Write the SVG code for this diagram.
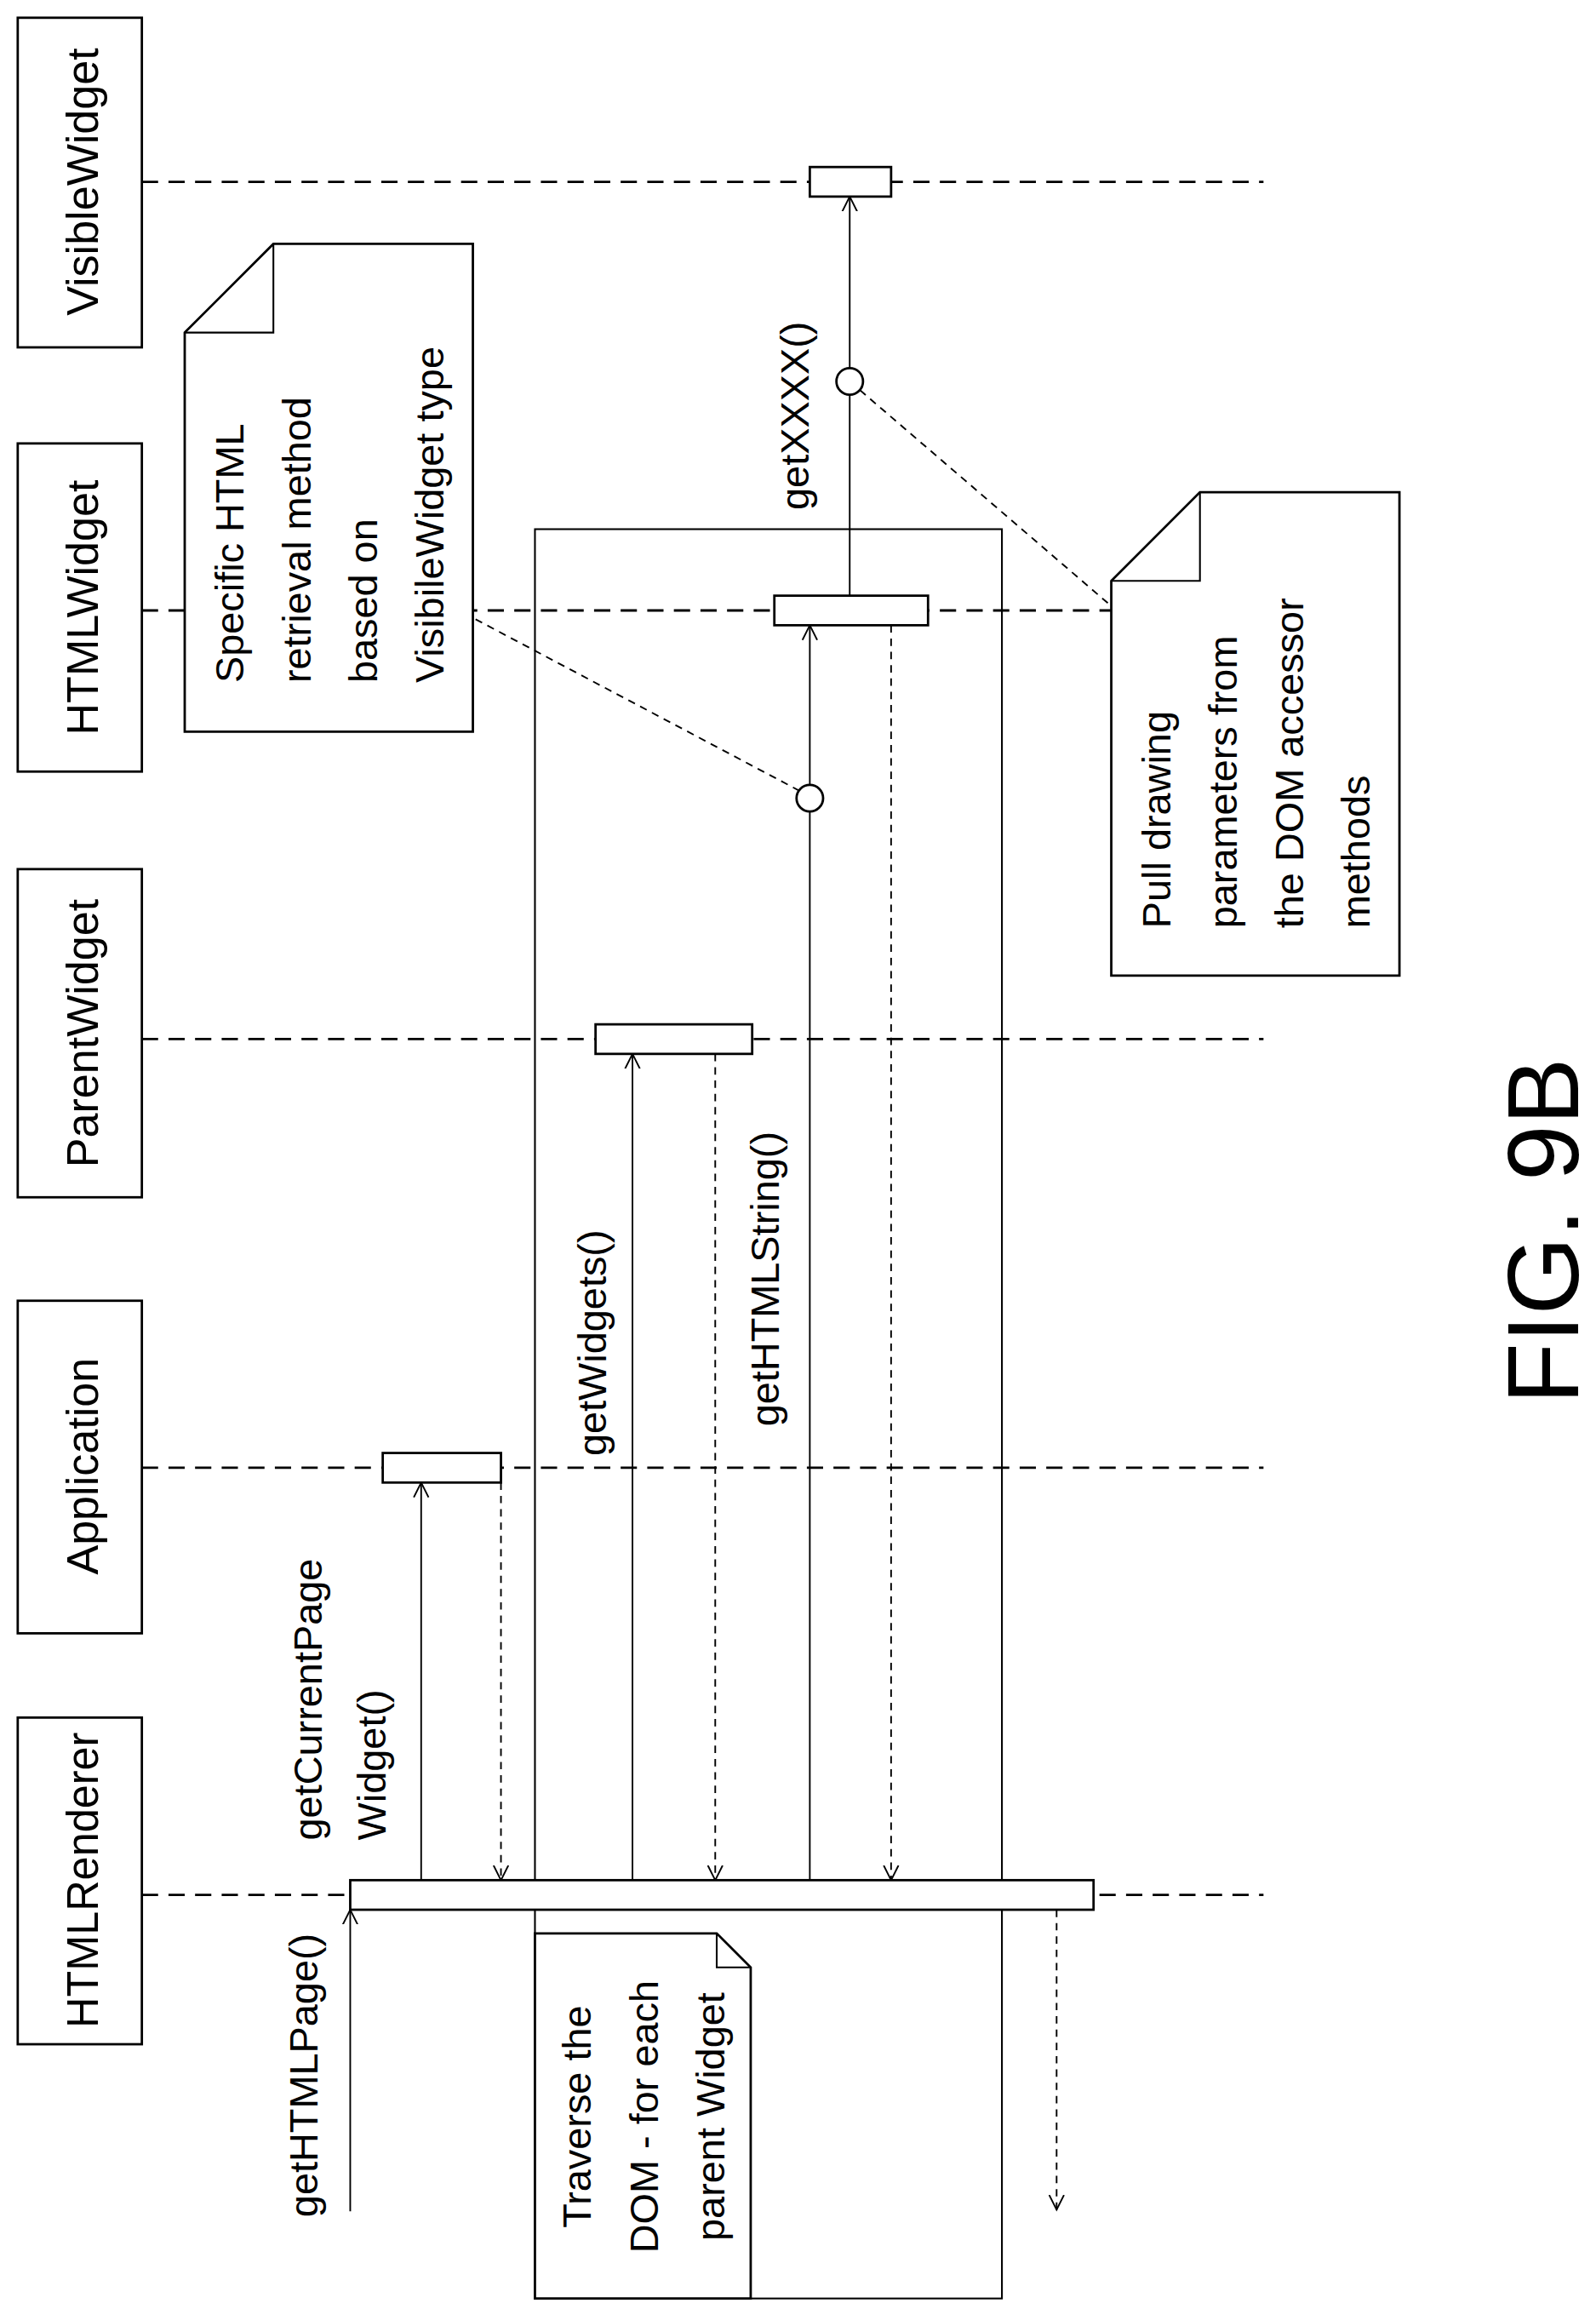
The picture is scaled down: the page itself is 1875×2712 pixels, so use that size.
<svg xmlns="http://www.w3.org/2000/svg" width="1875" height="2712" viewBox="0 0 1875 2712">
<style>
.b{fill:#fff;stroke:#000;stroke-width:1.6}
.n{fill:none;stroke:#000;stroke-width:1.2}
.ll{stroke:#000;stroke-width:1.6;stroke-dasharray:11 7;fill:none}
.d{stroke:#000;stroke-width:1.1;stroke-dasharray:5 4;fill:none}
.m{stroke:#000;stroke-width:1.1;fill:none}
text{font-family:"Liberation Sans",Arial,sans-serif;fill:#000}
.h{font-size:30px;text-anchor:middle}
.l{font-size:27px}
</style>
<defs>
<marker id="a" markerWidth="12" markerHeight="12" refX="10" refY="6" orient="auto" markerUnits="userSpaceOnUse"><path d="M0,1 L10,6 L0,11" fill="none" stroke="#000" stroke-width="1.1"/></marker>
</defs>
<rect width="1875" height="2712" fill="#fff"/>
<g transform="scale(1.7361)">
<g id="lifelines">
<path class="ll" d="M96,123H855M96,413H855M96,703H855M96,993H855M96,1282H855"/>
</g>
<g id="VisibleWidget"><rect class="b" x="12" y="12" width="84" height="223"/><text class="h" transform="translate(66,123) rotate(-90)">VisibleWidget</text></g>
<g id="HTMLWidget"><rect class="b" x="12" y="300" width="84" height="222"/><text class="h" transform="translate(66,411) rotate(-90)">HTMLWidget</text></g>
<g id="ParentWidget"><rect class="b" x="12" y="588" width="84" height="222"/><text class="h" transform="translate(66,699) rotate(-90)">ParentWidget</text></g>
<g id="Application"><rect class="b" x="12" y="880" width="84" height="225"/><text class="h" transform="translate(66,992) rotate(-90)">Application</text></g>
<g id="HTMLRenderer"><rect class="b" x="12" y="1162" width="84" height="221"/><text class="h" transform="translate(66,1272) rotate(-90)" textLength="200" lengthAdjust="spacingAndGlyphs">HTMLRenderer</text></g>
<g id="frame"><rect class="n" x="362" y="358" width="316" height="1197"/></g>
<g id="connectors">
<line class="m" x1="237" y1="1496" x2="237" y2="1292" marker-end="url(#a)"/>
<line class="m" x1="285" y1="1272" x2="285" y2="1003" marker-end="url(#a)"/>
<line class="d" x1="339" y1="1003" x2="339" y2="1272" marker-end="url(#a)"/>
<line class="m" x1="428" y1="1272" x2="428" y2="713" marker-end="url(#a)"/>
<line class="d" x1="484" y1="713" x2="484" y2="1272" marker-end="url(#a)"/>
<line class="m" x1="548" y1="1272" x2="548" y2="423" marker-end="url(#a)"/>
<line class="d" x1="603" y1="423" x2="603" y2="1272" marker-end="url(#a)"/>
<line class="m" x1="575" y1="403" x2="575" y2="133" marker-end="url(#a)"/>
<line class="d" x1="715" y1="1292" x2="715" y2="1495" marker-end="url(#a)"/>
<line class="d" x1="541" y1="535" x2="320" y2="418"/>
<line class="d" x1="582" y1="264" x2="752" y2="410"/>
<circle class="b" cx="548" cy="540" r="9"/>
<circle class="b" cx="575" cy="258" r="9"/>
</g>
<g id="activations">
<rect class="b" x="548" y="113" width="55" height="20"/>
<rect class="b" x="524" y="403" width="104" height="20"/>
<rect class="b" x="403" y="693" width="106" height="20"/>
<rect class="b" x="259" y="983" width="80" height="20"/>
<rect class="b" x="237" y="1272" width="503" height="20"/>
</g>
<g id="labels">
<text class="l" transform="translate(215,1500) rotate(-90)">getHTMLPage()</text>
<text class="l" transform="translate(218,1245) rotate(-90)">getCurrentPage</text>
<text class="l" transform="translate(261,1245) rotate(-90)">Widget()</text>
<text class="l" transform="translate(410,985) rotate(-90)">getWidgets()</text>
<text class="l" transform="translate(527,965) rotate(-90)">getHTMLString()</text>
<text class="l" transform="translate(547,345) rotate(-90)">getXXXX()</text>
</g>
<g id="note-traverse">
<path class="b" d="M362,1308H485L508,1331V1555H362Z"/>
<path class="n" d="M485,1308V1331H508"/>
<text class="l" transform="translate(400,1432) rotate(-90)" text-anchor="middle">Traverse the</text>
<text class="l" transform="translate(445,1432) rotate(-90)" text-anchor="middle">DOM - for each</text>
<text class="l" transform="translate(490,1432) rotate(-90)" text-anchor="middle">parent Widget</text>
</g>
<g id="note-specific">
<path class="b" d="M185,165H320V495H125V225Z"/>
<path class="n" d="M185,165L185,225L125,225"/>
<text class="l" transform="translate(165,462) rotate(-90)">Specific HTML</text>
<text class="l" transform="translate(210,462) rotate(-90)">retrieval method</text>
<text class="l" transform="translate(255,462) rotate(-90)">based on</text>
<text class="l" transform="translate(300,462) rotate(-90)">VisibileWidget type</text>
</g>
<g id="note-pull">
<path class="b" d="M812,333H947V660H752V393Z"/>
<path class="n" d="M812,333L812,393L752,393"/>
<text class="l" transform="translate(792,628) rotate(-90)">Pull drawing</text>
<text class="l" transform="translate(837,628) rotate(-90)">parameters from</text>
<text class="l" transform="translate(882,628) rotate(-90)">the DOM accessor</text>
<text class="l" transform="translate(927,628) rotate(-90)">methods</text>
</g>
<text transform="translate(1068,950) rotate(-90)" style="font-size:68px">FIG. 9B</text>
</g>
</svg>
